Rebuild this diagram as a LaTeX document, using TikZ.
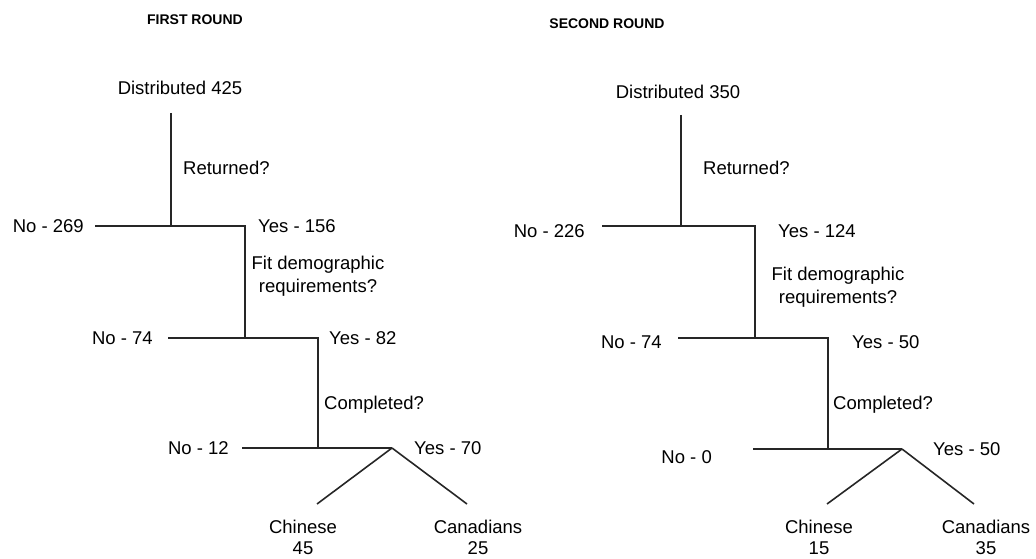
\documentclass[tikz,border=0pt]{standalone}
\usepackage{fontspec}
\setmainfont{Liberation Sans}
\begin{document}
\begin{tikzpicture}[x=1pt,y=-1pt,
  lbl/.style={font=\fontsize{18.5}{22}\selectfont, inner sep=0pt, text height=13.2pt, text depth=0pt},
  ml/.style={font=\fontsize{18.5}{23}\selectfont, inner sep=0pt, align=center},
  ml2/.style={font=\fontsize{18.5}{21}\selectfont, inner sep=0pt, align=center},
  ttl/.style={font=\bfseries\fontsize{14}{16}\selectfont, inner sep=0pt, text height=10pt, text depth=0pt},
  ln/.style={line width=1.6pt, draw=black!85}]
\useasboundingbox (0,0) rectangle (1036,559);

% ---------- FIRST ROUND ----------
\node[ttl] (title1) at (195,20) {FIRST ROUND};
\node[lbl] (dist1) at (180,88) {Distributed 425};
\coordinate (t1) at (171,113);
\coordinate (j1) at (171,226);
\coordinate (n1) at (95,226);
\coordinate (c1) at (245,226);
\coordinate (j2) at (245,338);
\coordinate (n2) at (168,338);
\coordinate (c2) at (318,338);
\coordinate (j3) at (318,448);
\coordinate (n3) at (242,448);
\coordinate (a1) at (392,448);
\coordinate (e1) at (317,504);
\coordinate (f1) at (467,504);

\node[lbl,anchor=west] (ret1) at (183,168) {Returned?};
\node[lbl,anchor=east] (no1) at (84,226) {No - 269};
\node[lbl,anchor=west] (yes1) at (258,226) {Yes - 156};
\node[ml] (fit1) at (318,276) {Fit demographic\\requirements?};
\node[lbl,anchor=east] (no2) at (153,338) {No - 74};
\node[lbl,anchor=west] (yes2) at (329,338) {Yes - 82};
\node[lbl,anchor=west] (comp1) at (324,403) {Completed?};
\node[lbl,anchor=east] (no3) at (229,448) {No - 12};
\node[lbl,anchor=west] (yes3) at (414,448) {Yes - 70};
\node[ml2] (chi1) at (303,537.5) {Chinese\\45};
\node[ml2] (can1) at (478,537.5) {Canadians\\25};

\draw[ln] (t1) -- (j1);
\draw[ln] (n1) -- (c1) -- (j2);
\draw[ln] (n2) -- (c2) -- (j3);
\draw[ln] (n3) -- (a1);
\draw[ln] (a1) -- (e1);
\draw[ln] (a1) -- (f1);

% ---------- SECOND ROUND ----------
\node[ttl] (title2) at (607,24) {SECOND ROUND};
\node[lbl] (dist2) at (678,92) {Distributed 350};
\coordinate (t2) at (681,115);
\coordinate (k1) at (681,226);
\coordinate (m1) at (602,226);
\coordinate (d1) at (755,226);
\coordinate (k2) at (755,338);
\coordinate (m2) at (678,338);
\coordinate (d2) at (828,338);
\coordinate (k3) at (828,449);
\coordinate (m3) at (753,449);
\coordinate (a2) at (902,449);
\coordinate (e2) at (827,504);
\coordinate (f2) at (974,504);

\node[lbl,anchor=west] (ret2) at (703,168) {Returned?};
\node[lbl,anchor=east] (no4) at (585,231) {No - 226};
\node[lbl,anchor=west] (yes4) at (778,231) {Yes - 124};
\node[ml] (fit2) at (838,287) {Fit demographic\\requirements?};
\node[lbl,anchor=east] (no5) at (662,342) {No - 74};
\node[lbl,anchor=west] (yes5) at (852,342) {Yes - 50};
\node[lbl,anchor=west] (comp2) at (833,403) {Completed?};
\node[lbl,anchor=east] (no6) at (712,457) {No - 0};
\node[lbl,anchor=west] (yes6) at (933,449) {Yes - 50};
\node[ml2] (chi2) at (819,537.5) {Chinese\\15};
\node[ml2] (can2) at (986,537.5) {Canadians\\35};

\draw[ln] (t2) -- (k1);
\draw[ln] (m1) -- (d1) -- (k2);
\draw[ln] (m2) -- (d2) -- (k3);
\draw[ln] (m3) -- (a2);
\draw[ln] (a2) -- (e2);
\draw[ln] (a2) -- (f2);
\end{tikzpicture}
\end{document}
